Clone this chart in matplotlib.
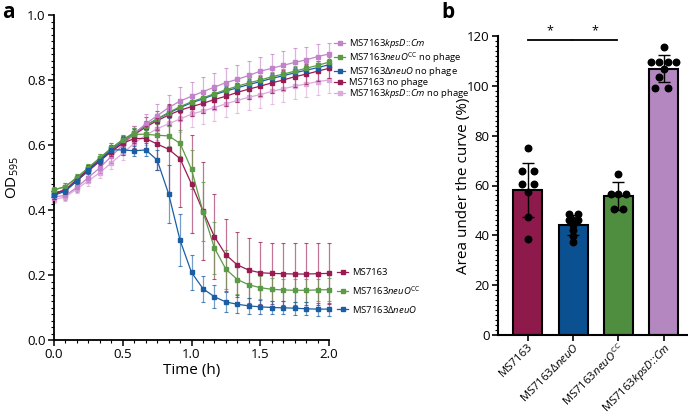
import numpy as np
import matplotlib
matplotlib.use("Agg")
import matplotlib.pyplot as plt
from matplotlib.lines import Line2D
from matplotlib.ticker import MultipleLocator, FormatStrFormatter

plt.rcParams['font.family'] = ['Open Sans', 'DejaVu Sans']
plt.rcParams['mathtext.fontset'] = 'custom'
plt.rcParams['mathtext.rm'] = 'Open Sans'
plt.rcParams['mathtext.it'] = 'Open Sans:italic'
plt.rcParams['mathtext.bf'] = 'Open Sans:bold'

# ---------------- data: panel a (OD595 over time) ----------------
minutes = [0, 5, 10, 15, 20, 25, 30, 35, 40, 45, 50, 55, 60,
           65, 70, 75, 80, 85, 90, 95, 100, 105, 110, 115, 120]

ms7163_phage = [0.450, 0.462, 0.495, 0.525, 0.555, 0.580, 0.605, 0.620, 0.620, 0.603, 0.587, 0.558, 0.480,
                0.397, 0.318, 0.262, 0.231, 0.215, 0.207, 0.205, 0.204, 0.203, 0.203, 0.204, 0.205]
ms7163_phage_err = [0.015, 0.012, 0.012, 0.012, 0.012, 0.015, 0.020, 0.030, 0.040, 0.080, 0.140, 0.150, 0.150,
                    0.150, 0.130, 0.110, 0.100, 0.100, 0.095, 0.095, 0.095, 0.095, 0.095, 0.095, 0.095]

neuocc_phage = [0.462, 0.472, 0.500, 0.530, 0.560, 0.590, 0.615, 0.633, 0.633, 0.630, 0.628, 0.605, 0.525,
                0.395, 0.283, 0.218, 0.186, 0.170, 0.161, 0.156, 0.154, 0.153, 0.153, 0.154, 0.155]
neuocc_phage_err = [0.010, 0.010, 0.010, 0.012, 0.012, 0.015, 0.015, 0.020, 0.020, 0.020, 0.030, 0.040, 0.060,
                    0.090, 0.080, 0.060, 0.045, 0.040, 0.035, 0.035, 0.035, 0.035, 0.035, 0.035, 0.035]

dneuo_phage = [0.445, 0.458, 0.490, 0.522, 0.552, 0.585, 0.585, 0.582, 0.585, 0.554, 0.450, 0.307, 0.208,
               0.158, 0.133, 0.117, 0.110, 0.105, 0.102, 0.100, 0.099, 0.098, 0.096, 0.095, 0.095]
dneuo_phage_err = [0.010, 0.010, 0.010, 0.012, 0.012, 0.012, 0.015, 0.015, 0.020, 0.030, 0.090, 0.080, 0.055,
                   0.040, 0.035, 0.030, 0.028, 0.025, 0.022, 0.020, 0.020, 0.020, 0.020, 0.020, 0.020]

kpsd_phage = [0.440, 0.445, 0.470, 0.500, 0.530, 0.565, 0.600, 0.635, 0.665, 0.690, 0.715, 0.735, 0.750,
              0.764, 0.778, 0.792, 0.802, 0.814, 0.827, 0.836, 0.845, 0.854, 0.862, 0.872, 0.880]
kpsd_phage_err = [0.010, 0.015, 0.015, 0.015, 0.015, 0.020, 0.020, 0.025, 0.030, 0.035, 0.040, 0.045, 0.045,
                  0.045, 0.045, 0.045, 0.045, 0.045, 0.045, 0.045, 0.045, 0.045, 0.040, 0.040, 0.035]

neuocc_nophage = [0.462, 0.472, 0.500, 0.530, 0.560, 0.590, 0.617, 0.638, 0.660, 0.680, 0.700, 0.718, 0.733,
                  0.745, 0.758, 0.770, 0.781, 0.791, 0.800, 0.810, 0.818, 0.827, 0.836, 0.845, 0.855]
neuocc_nophage_err = [0.010, 0.010, 0.012, 0.012, 0.012, 0.015, 0.015, 0.015, 0.015, 0.015, 0.015, 0.015, 0.015,
                      0.015, 0.015, 0.015, 0.015, 0.015, 0.015, 0.015, 0.015, 0.015, 0.015, 0.015, 0.015]

dneuo_nophage = [0.447, 0.460, 0.490, 0.525, 0.555, 0.585, 0.612, 0.637, 0.660, 0.680, 0.698, 0.715, 0.730,
                 0.742, 0.755, 0.766, 0.776, 0.786, 0.795, 0.805, 0.813, 0.822, 0.830, 0.838, 0.847]
dneuo_nophage_err = [0.010, 0.010, 0.012, 0.012, 0.012, 0.015, 0.015, 0.015, 0.015, 0.015, 0.015, 0.015, 0.015,
                     0.015, 0.015, 0.015, 0.015, 0.015, 0.015, 0.015, 0.015, 0.015, 0.015, 0.015, 0.015]

ms7163_nophage = [0.452, 0.462, 0.490, 0.520, 0.550, 0.580, 0.607, 0.632, 0.655, 0.675, 0.692, 0.707, 0.718,
                  0.728, 0.740, 0.750, 0.762, 0.772, 0.781, 0.791, 0.800, 0.810, 0.818, 0.827, 0.836]
ms7163_nophage_err = [0.012, 0.012, 0.012, 0.015, 0.015, 0.020, 0.020, 0.025, 0.030, 0.030, 0.030, 0.030, 0.030,
                      0.030, 0.030, 0.030, 0.030, 0.030, 0.030, 0.030, 0.030, 0.030, 0.030, 0.030, 0.030]

kpsd_nophage = [0.432, 0.440, 0.465, 0.490, 0.515, 0.545, 0.575, 0.605, 0.630, 0.650, 0.665, 0.680, 0.695,
                0.705, 0.715, 0.727, 0.737, 0.747, 0.755, 0.765, 0.773, 0.781, 0.788, 0.795, 0.800]
kpsd_nophage_err = [0.010, 0.012, 0.012, 0.015, 0.015, 0.020, 0.020, 0.025, 0.030, 0.035, 0.040, 0.040, 0.040,
                    0.040, 0.040, 0.040, 0.040, 0.040, 0.040, 0.040, 0.040, 0.040, 0.040, 0.040, 0.040]

# ---------------- data: panel b (area under the curve) ----------------
strains = [r"MS7163", r"MS7163$\Delta\mathit{neuO}$", r"MS7163$\mathit{neuO}^{\mathrm{CC}}$",
           r"MS7163$\mathit{kpsD}$::$\mathit{Cm}$"]
auc_mean = [58.3, 44.0, 55.7, 106.8]
auc_sd = [10.8, 4.0, 5.6, 5.4]
auc_points = [
    [75.0, 65.8, 65.8, 60.8, 60.8, 57.5, 47.3, 38.6],
    [48.5, 48.5, 46.3, 46.3, 46.3, 44.0, 42.0, 39.8, 37.2],
    [64.6, 56.5, 56.5, 56.5, 50.5, 50.5],
    [115.4, 109.4, 109.4, 109.4, 109.4, 106.6, 103.4, 99.2, 99.2],
]
sig_pairs = [(0, 1), (1, 2)]
sig_labels = ["*", "*"]

# ---------------- style ----------------
c_crimson = '#9a1b52'
c_green = '#5b9a46'
c_blue = '#1b5ea3'
c_orchid = '#c283ca'
c_lpink = '#dcaadc'
bar_colors = ['#8e1a4c', '#0b5191', '#4f8e3e', '#b487c0']

fig = plt.figure(figsize=(6.88, 4.16), dpi=100)
W, H = 688.0, 416.0
ax1 = fig.add_axes([54 / W, 1 - 340 / H, 275 / W, 325 / H])
ax2 = fig.add_axes([498 / W, 1 - 335 / H, 190 / W, 299 / H])

t = np.array(minutes) / 60.0


def draw(ax, y, e, color, z):
    cont = ax.errorbar(t, y, yerr=e, fmt='-s', color=color, ms=2.6, lw=0.9,
                       elinewidth=0.9, capsize=1.6, capthick=0.8, zorder=z, clip_on=False)
    for cl in cont.lines[1]:
        cl.set_alpha(0.75)
    for bl in cont.lines[2]:
        bl.set_alpha(0.6)
    return cont


draw(ax1, kpsd_nophage, kpsd_nophage_err, c_lpink, 2)
draw(ax1, ms7163_nophage, ms7163_nophage_err, c_crimson, 3)
draw(ax1, dneuo_nophage, dneuo_nophage_err, c_blue, 3)
draw(ax1, neuocc_nophage, neuocc_nophage_err, c_green, 3)
draw(ax1, kpsd_phage, kpsd_phage_err, c_orchid, 3)
draw(ax1, ms7163_phage, ms7163_phage_err, c_crimson, 4)
draw(ax1, neuocc_phage, neuocc_phage_err, c_green, 4)
draw(ax1, dneuo_phage, dneuo_phage_err, c_blue, 4)

ax1.set_xlim(0, 2.0)
ax1.set_ylim(0, 1.0)
ax1.xaxis.set_major_locator(MultipleLocator(0.5))
ax1.xaxis.set_minor_locator(MultipleLocator(1 / 12))
ax1.yaxis.set_major_locator(MultipleLocator(0.2))
ax1.yaxis.set_minor_locator(MultipleLocator(0.02))
ax1.xaxis.set_major_formatter(FormatStrFormatter('%.1f'))
ax1.yaxis.set_major_formatter(FormatStrFormatter('%.1f'))
for s in ['top', 'right']:
    ax1.spines[s].set_visible(False)
for s in ['left', 'bottom']:
    ax1.spines[s].set_linewidth(1.3)
ax1.tick_params(which='major', length=4, width=1.1, labelsize=9.5, direction='out', pad=2)
ax1.tick_params(which='minor', length=2.2, width=0.8, direction='out')
ax1.set_xlabel('Time (h)', fontsize=11, labelpad=1)
ax1.set_ylabel(r'OD$_{595}$', fontsize=11, labelpad=4)

def h(c):
    return Line2D([], [], color=c, marker='s', ms=2.6, lw=0.9)

leg1 = fig.legend([h(c_orchid), h(c_green), h(c_blue), h(c_crimson), h(c_lpink)],
                  [r"MS7163$\mathit{kpsD}$::$\mathit{Cm}$",
                   r"MS7163$\mathit{neuO}^{\mathrm{CC}}$ no phage",
                   r"MS7163$\Delta\mathit{neuO}$ no phage",
                   r"MS7163 no phage",
                   r"MS7163$\mathit{kpsD}$::$\mathit{Cm}$ no phage"],
                  loc='upper left', bbox_to_anchor=(334 / W, 1 - 37 / H), frameon=False,
                  fontsize=6.8, handlelength=1.2, handletextpad=0.4, labelspacing=0.02,
                  borderpad=0, borderaxespad=0)
leg2 = fig.legend([h(c_crimson), h(c_green), h(c_blue)],
                  [r"MS7163", r"MS7163$\mathit{neuO}^{\mathrm{CC}}$", r"MS7163$\Delta\mathit{neuO}$"],
                  loc='upper left', bbox_to_anchor=(337 / W, 1 - 268 / H), frameon=False,
                  fontsize=6.8, handlelength=1.2, handletextpad=0.4, labelspacing=0.75,
                  borderpad=0, borderaxespad=0)

# ---------------- panel b ----------------
x = np.arange(len(strains))
ax2.bar(x, auc_mean, width=0.64, color=bar_colors, edgecolor='black', linewidth=1.5, zorder=2)
ax2.errorbar(x, auc_mean, yerr=auc_sd, fmt='none', ecolor='black', elinewidth=1.0,
             capsize=4, capthick=1.0, zorder=4)
offsets = [
    [0.0, -0.14, 0.13, -0.14, 0.13, 0.0, 0.0, 0.0],
    [-0.1, 0.1, -0.1, 0.0, 0.1, 0.0, 0.0, 0.0, 0.0],
    [0.0, -0.17, 0.0, 0.17, -0.1, 0.1],
    [0.0, -0.27, -0.1, 0.1, 0.27, 0.0, -0.1, -0.18, 0.1],
]
for i, pts in enumerate(auc_points):
    ax2.scatter(x[i] + np.array(offsets[i]), pts, s=22, color='black', zorder=5, clip_on=False)

for (a, b), lab in zip(sig_pairs, sig_labels):
    ax2.plot([a + 0.0, b - 0.03], [118.5, 118.5], color='black', lw=1.3, clip_on=False)
    ax2.text((a + b) / 2 - 0.015, 119.5, lab, ha='center', va='bottom', fontsize=9)

ax2.set_xlim(-0.66, 3.54)
ax2.set_ylim(0, 120)
ax2.yaxis.set_major_locator(MultipleLocator(20))
ax2.yaxis.set_minor_locator(MultipleLocator(2))
for s in ['top', 'right']:
    ax2.spines[s].set_visible(False)
for s in ['left', 'bottom']:
    ax2.spines[s].set_linewidth(1.5)
ax2.tick_params(which='major', length=4, width=1.2, direction='out', pad=2)
ax2.tick_params(axis='y', which='major', labelsize=9.5)
ax2.tick_params(axis='x', which='major', pad=0.5, labelsize=8.2)
ax2.tick_params(which='minor', length=2.2, width=0.8, direction='out')
ax2.set_xticks(x)
ax2.set_xticklabels(strains, rotation=45, ha='right', rotation_mode='anchor', fontsize=8.2)
ax2.set_ylabel('Area under the curve (%)', fontsize=11, labelpad=-3)

fig.text(2 / W, 1 - 2 / H, 'a', fontsize=15, fontweight='bold', va='top', ha='left')
fig.text(441 / W, 1 - 2 / H, 'b', fontsize=15, fontweight='bold', va='top', ha='left')

fig.savefig('out.png', dpi=100)
